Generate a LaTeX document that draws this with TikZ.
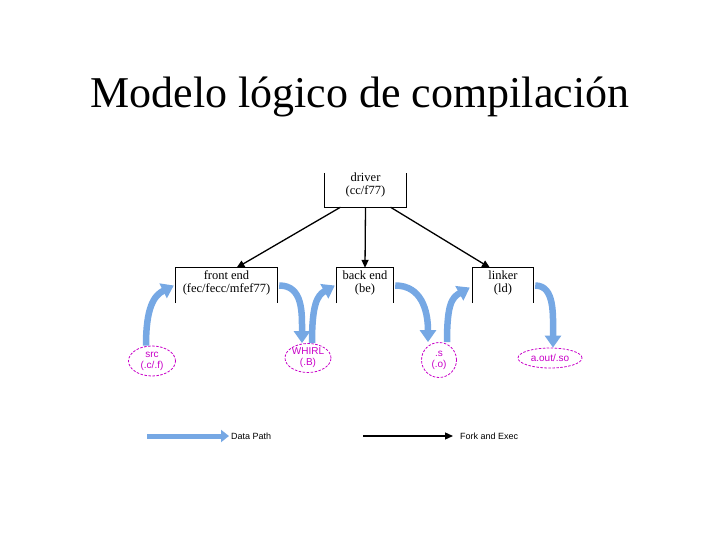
\documentclass[tikz,border=0pt]{standalone}
\usepackage{fontspec}
\setmainfont{Liberation Serif}
\setsansfont{Liberation Sans}
\usetikzlibrary{arrows.meta,shapes.geometric}
\definecolor{dpblue}{RGB}{118,168,228}
\definecolor{fmag}{RGB}{200,0,200}
\tikzset{
  boxframe/.style={draw=none,inner sep=0pt},
  boxtext/.style={align=center,font=\fontsize{12.5}{13.5}\selectfont,inner sep=0pt},
  side/.style={line width=1pt,black},
  fork/.style={line width=1.3pt,-{Triangle[length=8pt,width=7pt]}},
  datapath/.style={line width=6.5pt,dpblue,-{Triangle[length=12pt,width=16pt]}},
  filenode/.style={draw=fmag,dash pattern=on 2.5pt off 1.5pt,line width=0.8pt,ellipse,inner sep=0pt,
     text=fmag,align=center,font=\sffamily\fontsize{10}{11}\selectfont},
  legtext/.style={anchor=west,inner sep=0pt,font=\sffamily\fontsize{9}{10}\selectfont}
}
\begin{document}
\begin{tikzpicture}[x=1pt,y=-1pt]
\useasboundingbox (0,0) rectangle (720,540);
\node[font=\fontsize{44}{48}\selectfont] (title) at (360,97) {Modelo lógico de compilación};

% boxes
\node[boxframe,minimum width=81pt,minimum height=34pt] (driver) at (365.5,190) {};
\node[boxtext] (drivert) at (365.5,185) {driver\\(cc/f77)};
\draw[side] (driver.north west) -- (driver.south west) -- (driver.south east) -- (driver.north east);

\node[boxframe,minimum width=101pt,minimum height=35pt] (fe) at (226.5,285.5) {};
\node[boxtext] (fet) at (226.5,283) {front end\\(fec/fecc/mfef77)};
\draw[side] (fe.south west) -- (fe.north west) -- (fe.north east) -- (fe.south east);

\node[boxframe,minimum width=56pt,minimum height=35pt] (be) at (365,285.5) {};
\node[boxtext] (bet) at (365,283) {back end\\(be)};
\draw[side] (be.south west) -- (be.north west) -- (be.north east) -- (be.south east);

\node[boxframe,minimum width=60pt,minimum height=35pt] (ld) at (503,285.5) {};
\node[boxtext] (ldt) at (503,283) {linker\\(ld)};
\draw[side] (ld.south west) -- (ld.north west) -- (ld.north east) -- (ld.south east);

% fork arrows
\draw[fork] ([xshift=-25pt]driver.south) -- ([xshift=10pt]fe.north);
\draw[fork] (driver.south) -- (be.north);
\draw[fork] ([xshift=25pt]driver.south) -- ([xshift=-13pt]ld.north);

% files
\node[filenode,minimum width=47pt,minimum height=30pt] (src) at (152,361) {src\\(.c/.f)};
\node[filenode,minimum width=46pt,minimum height=29pt] (whirl) at (308,358) {WHIRL\\(.B)};
\node[filenode,circle,minimum size=35pt] (s) at (439,360) {.s\\(.o)};
\node[filenode,minimum width=64pt,minimum height=20pt] (aout) at (550,358) {a.out/.so};

% data paths
\draw[datapath] ([xshift=-6pt]src.north) .. controls +(0,-38) and +(-20,10) .. ([xshift=-2pt]fe.west);
\draw[datapath] ([xshift=2pt]fe.east) .. controls +(24,0) and +(0,-30) .. ([xshift=-6pt]whirl.north);
\draw[datapath] ([xshift=4pt]whirl.north) .. controls +(0,-38) and +(-18,10) .. ([xshift=-2pt]be.west);
\draw[datapath] ([xshift=2pt]be.east) .. controls +(26,0) and +(0,-32) .. ([xshift=-11pt]s.north);
\draw[datapath] ([xshift=8pt]s.north) .. controls +(0,-38) and +(-18,10) .. ([xshift=-3pt,yshift=-2pt]ld.west);
\draw[datapath] ([xshift=2pt]ld.east) .. controls +(20,0) and +(0,-32) .. ([xshift=3pt]aout.north);

% legend
\coordinate (dpstart) at (147,436);
\node[legtext] (dplabel) at (231,436) {Data Path};
\draw[datapath,line width=5pt,-{Triangle[length=8pt,width=12pt]}] (dpstart) -- ([xshift=-2pt]dplabel.west);
\coordinate (fkstart) at (363,436);
\node[legtext] (fklabel) at (460,436) {Fork and Exec};
\draw[fork] (fkstart) -- ([xshift=-7pt]fklabel.west);
\end{tikzpicture}
\end{document}
